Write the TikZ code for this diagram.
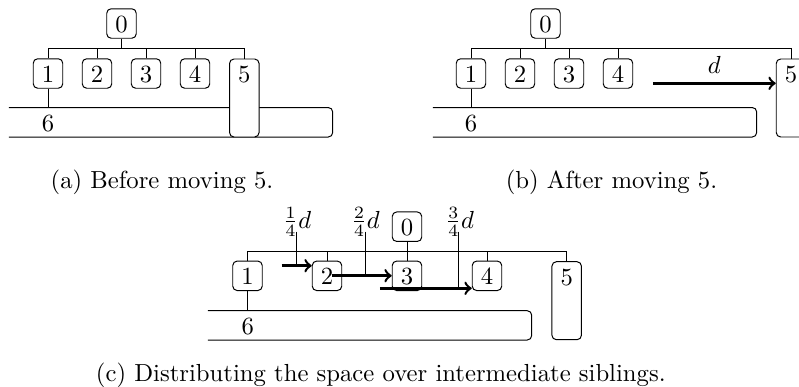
\documentclass[tikz,border=0pt]{standalone}
\usetikzlibrary{calc}
\begin{document}
\begin{tikzpicture}[x=0.405pt,y=-0.405pt,
  box/.style={draw,fill=white,rounded corners=1.8pt,inner xsep=0pt,inner ysep=2.47pt,
    minimum width=11.95pt,text height=7pt,text depth=0pt},
  tallbox/.style={box,text depth=19.65pt,anchor=north},
  bar/.style={draw,rounded corners=1.8pt},
  move/.style={->,line width=1pt},
  captext/.style={anchor=base,inner sep=0pt},
  lbl/.style={anchor=base,inner sep=0pt},
  plain/.style={anchor=base,inner sep=0pt}]
\clip (0,0) rectangle (799,386);
% ---------- (a)
\coordinate (ha) at (0,48.5);
\coordinate (ba) at (9,107.5);
\draw[bar] (ba) -- (332.7,107.5) -- (332.7,137) -- (9,137);
\node[box] (a0) at (121.5,23.5) {0};
\node[box] (a1) at (48,73.5) {1};
\node[box] (a2) at (97,73.5) {2};
\node[box] (a3) at (146,73.5) {3};
\node[box] (a4) at (195,73.5) {4};
\node[tallbox] (a5) at (244.3,58.5) {5};
\node[plain] (a6) at (48,131.5) {6};
\draw (a0.south) -- (a0.south |- ha);
\draw (a1.north) -- (a1.north |- ha) -- (a5.north |- ha) -- (a5.north);
\foreach \n in {a2,a3,a4} \draw (\n.north) -- (\n.north |- ha);
\draw (a1.south) -- (a1.south |- ba);
\node[captext] (capa) at (162,188) {(a) Before moving 5.};
% ---------- (b)
\coordinate (hb) at (0,48.5);
\coordinate (bb) at (433,107.5);
\draw[bar] (bb) -- (756.7,107.5) -- (756.7,137) -- (433,137);
\node[box] (b0) at (545.5,23.5) {0};
\node[box] (b1) at (471,73.5) {1};
\node[box] (b2) at (520,73.5) {2};
\node[box] (b3) at (569,73.5) {3};
\node[box] (b4) at (618,73.5) {4};
\node[tallbox] (b5) at (791,58.5) {5};
\node[plain] (b6) at (471,131.5) {6};
\draw (b0.south) -- (b0.south |- hb);
\draw (b1.north) -- (b1.north |- hb) -- (b5.north |- hb) -- (b5.north);
\foreach \n in {b2,b3,b4} \draw (\n.north) -- (\n.north |- hb);
\draw (b1.south) -- (b1.south |- bb);
\coordinate (bd) at (653,83.3);
\draw[move] (bd) -- (bd -| b5.west) node[midway,above] (dlab) {$d$};
\node[captext] (capb) at (611.5,188) {(b) After moving 5.};
% ---------- (c)
\coordinate (hc) at (0,251.7);
\coordinate (bc) at (208,310.7);
\draw[bar] (bc) -- (531.7,310.7) -- (531.7,340) -- (208,340);
\node[box] (c0) at (407,226.7) {0};
\node[box] (c1) at (247.5,275.8) {1};
\node[box] (c2) at (327,275.8) {2};
\node[box] (c3) at (407,275.8) {3};
\node[box] (c4) at (487,275.8) {4};
\node[tallbox] (c5) at (566.7,261.2) {5};
\node[plain] (c6) at (247.7,334.5) {6};
\draw (c0.south) -- (c3.north);
\draw (c1.north) -- (c1.north |- hc) -- (c5.north |- hc) -- (c5.north);
\foreach \n in {c2,c4} \draw (\n.north) -- (\n.north |- hc);
\draw (c1.south) -- (c1.south |- bc);
% labels
\node[lbl] (l1) at (297,228) {$\frac14 d$};
\node[lbl] (l2) at (365.5,228) {$\frac24 d$};
\node[lbl] (l3) at (459.7,228) {$\frac34 d$};
\coordinate (s1) at (281.7,265.7);
\coordinate (s2) at (331.7,275.7);
\coordinate (s3) at (380,288.3);
\coordinate (t1) at (296,231.7);
\coordinate (t2) at (365.7,231.7);
\coordinate (t3) at (458.3,231.7);
\draw (t1) -- (t1 |- s1);
\draw (t2) -- (t2 |- s2);
\draw (t3) -- (t3 |- s3);
\draw[move] (s1) -- (s1 -| c2.west);
\draw[move] (s2) -- (s2 -| c3.west);
\draw[move] (s3) -- (s3 -| c4.west);
\node[captext] (capc) at (380.8,381) {(c) Distributing the space over intermediate siblings.};
\end{tikzpicture}
\end{document}
